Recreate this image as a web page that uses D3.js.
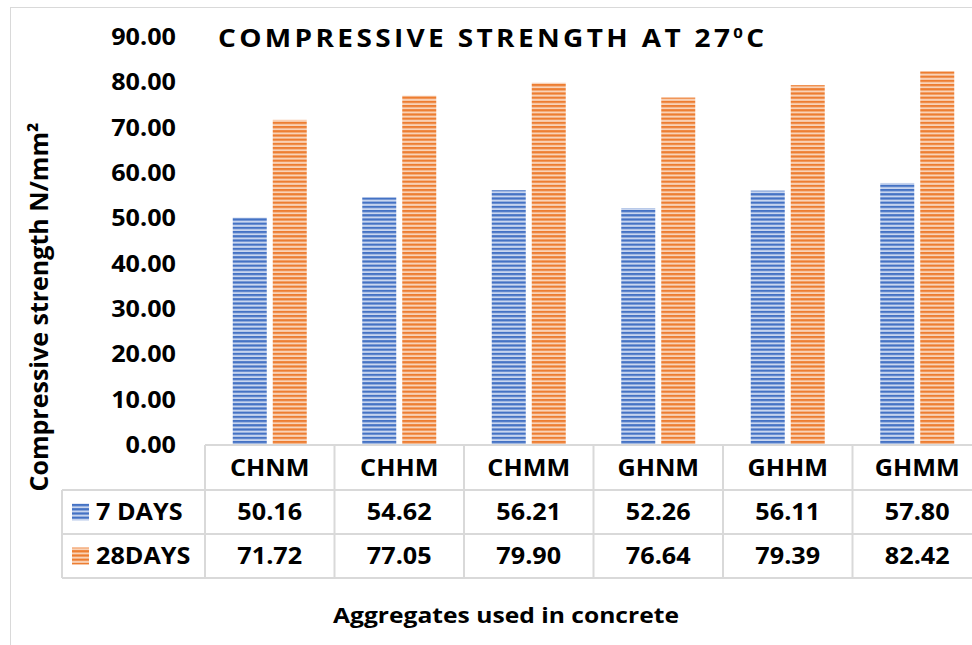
<!DOCTYPE html>
<html><head><meta charset="utf-8">
<script src="https://cdn.jsdelivr.net/npm/d3@7"></script>
<style>
body{margin:0;background:#fff}
text{font-family:"Open Sans",sans-serif;font-weight:700;fill:#000}
</style>
</head><body>
<svg id="c" width="972" height="645"></svg>
<script>
const categories = ["CHNM","CHHM","CHMM","GHNM","GHHM","GHMM"];
const seriesNames = ["7 DAYS","28DAYS"];
const days7 = [50.16,54.62,56.21,52.26,56.11,57.80];
const days28 = [71.72,77.05,79.90,76.64,79.39,82.42];
const yTicks = [0,10,20,30,40,50,60,70,80,90];
const colors = ["#4472C4","#ED7D31"];
const lightColors = ["#c9d6ef","#f9d3b8"];
const seriesValues = [days7, days28];

const SX = 1.12;
const svg = d3.select("#c");
const defs = svg.append("defs");
seriesNames.forEach((s,i)=>{
  const p = defs.append("pattern").attr("id","pat"+i).attr("patternUnits","userSpaceOnUse")
    .attr("width",8).attr("height",4.2);
  p.append("rect").attr("width",8).attr("height",4.2).attr("fill",lightColors[i]);
  p.append("rect").attr("y",0).attr("width",8).attr("height",2.2).attr("fill",colors[i]);
});

// frame
svg.append("rect").attr("x",10.5).attr("y",7.5).attr("width",1100).attr("height",700)
  .attr("fill","none").attr("stroke","#d9d9d9").attr("stroke-width",1);

const x0 = d3.scaleBand().domain(categories).range([205,982]);
const x1 = d3.scaleBand().domain(seriesNames).range([0,x0.bandwidth()]).paddingInner(0.15).paddingOuter(0.694);
const y = d3.scaleLinear().domain([0,90]).range([445,37]);

// bars
const g = svg.append("g");
categories.forEach((c,ci)=>{
  seriesNames.forEach((s,si)=>{
    const v = seriesValues[si][ci];
    g.append("rect").attr("x",x0(c)+x1(s)).attr("y",y(v)).attr("width",x1.bandwidth())
      .attr("height",y(0)-y(v)).attr("fill","url(#pat"+si+")");
  });
});

// y tick labels
svg.append("g").selectAll("text").data(yTicks).join("text")
  .attr("transform",d=>`translate(176,${y(d)}) scale(${SX},1)`)
  .attr("text-anchor","end").attr("dy","0.36em").style("font-size","22.5px")
  .text(d=>d3.format(".2f")(d));

// table geometry
const rowBot = 578;
const tableLeft = 62, right = 982;
const lc = "#d9d9d9";
const tl = svg.append("g").attr("stroke",lc).attr("stroke-width",2);
tl.append("line").attr("x1",205).attr("x2",right).attr("y1",445).attr("y2",445);
[490,534,578].forEach(yy=>tl.append("line").attr("x1",tableLeft).attr("x2",right).attr("y1",yy).attr("y2",yy));
tl.append("line").attr("x1",tableLeft).attr("x2",tableLeft).attr("y1",490).attr("y2",rowBot);
tl.append("line").attr("x1",205).attr("x2",205).attr("y1",445).attr("y2",rowBot);
categories.forEach(c=>{
  const xx = x0(c)+x0.bandwidth();
  tl.append("line").attr("x1",xx).attr("x2",xx).attr("y1",445).attr("y2",rowBot);
});

// header row
svg.append("g").selectAll("text").data(categories).join("text")
  .attr("transform",d=>`translate(${x0(d)+x0.bandwidth()/2},468) scale(${SX},1)`)
  .attr("text-anchor","middle").attr("dy","0.36em").style("font-size","22.5px").text(d=>d);

// data rows
seriesNames.forEach((s,si)=>{
  const cy = si===0 ? 512 : 556;
  svg.append("rect").attr("x",72).attr("y",cy-8.5).attr("width",17).attr("height",17).attr("fill","url(#pat"+si+")");
  svg.append("text").attr("transform",`translate(96,${cy}) scale(${SX},1)`).attr("dy","0.36em")
    .style("font-size","22.5px").text(s);
  svg.append("g").selectAll("text").data(seriesValues[si]).join("text")
    .attr("transform",(d,i)=>`translate(${x0(categories[i])+x0.bandwidth()/2},${cy}) scale(${SX},1)`)
    .attr("text-anchor","middle").attr("dy","0.36em").style("font-size","22.5px")
    .text(d=>d3.format(".2f")(d));
});

// axis titles
svg.append("text").attr("transform",`translate(506,623) scale(${SX},1)`).attr("text-anchor","middle")
  .style("font-size","22px").text("Aggregates used in concrete");
svg.append("text").attr("transform","translate(48,307) rotate(-90)").attr("text-anchor","middle")
  .style("font-size","25px").text("Compressive strength N/mm²");

// title
const t = svg.append("text").attr("transform",`translate(218,47) scale(${SX},1)`)
  .style("font-size","25px").style("letter-spacing","3px");
t.append("tspan").text("COMPRESSIVE STRENGTH AT 27");
t.append("tspan").attr("dy",-9).style("font-size","15px").text("0");
t.append("tspan").attr("dy",9).text("C");
</script>
</body></html>
